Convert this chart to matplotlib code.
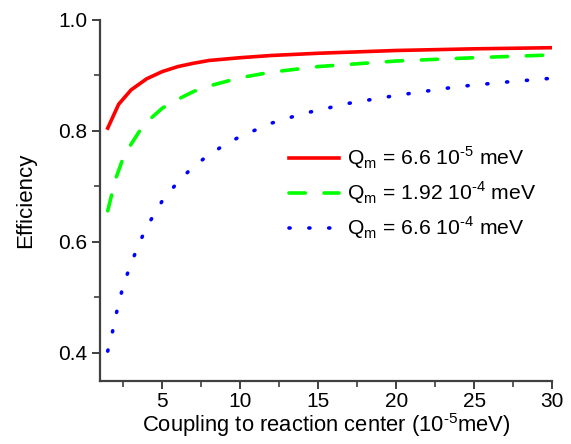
import matplotlib
matplotlib.use("Agg")
import matplotlib.pyplot as plt
from matplotlib.ticker import MultipleLocator

plt.rcParams['font.family'] = ['Liberation Sans', 'DejaVu Sans']
plt.rcParams['mathtext.fontset'] = 'custom'
plt.rcParams['mathtext.rm'] = 'Liberation Sans'

# efficiency vs coupling, one curve per Q_m
x_red = [1.5, 2.2, 3, 4, 5, 6, 7, 8, 10, 12, 15, 20, 25, 30]
eff_red = [0.805, 0.848, 0.874, 0.894, 0.907, 0.916, 0.922, 0.927, 0.932,
           0.936, 0.940, 0.945, 0.948, 0.950]

x_green = [1.5, 2, 2.5, 3, 3.5, 4, 5, 6, 7, 8, 10, 12, 15, 20, 25, 30]
eff_green = [0.656, 0.713, 0.752, 0.776, 0.798, 0.816, 0.841, 0.857, 0.871,
             0.881, 0.896, 0.906, 0.916, 0.926, 0.932, 0.937]

x_blue = [1.5, 1.8, 2, 2.5, 3, 3.5, 4, 5, 6, 7, 8, 9, 10, 12, 14, 17, 20,
          24, 27, 30]
eff_blue = [0.403, 0.437, 0.465, 0.522, 0.561, 0.596, 0.627, 0.674, 0.708,
            0.736, 0.757, 0.775, 0.790, 0.814, 0.831, 0.850, 0.864, 0.880,
            0.888, 0.895]

labels = [r'Q$_\mathregular{m}$ = 6.6 10$^\text{-5}$ meV',
          r'Q$_\mathregular{m}$ = 1.92 10$^\text{-4}$ meV',
          r'Q$_\mathregular{m}$ = 6.6 10$^\text{-4}$ meV']

fig = plt.figure(figsize=(5.71, 4.44), dpi=100)
ax = fig.add_axes([0.175, 0.143, 0.792, 0.812])

ax.plot(x_red, eff_red, color='#ff0000', lw=2.6, label=labels[0])
ax.plot(x_green, eff_green, color='#00ff00', lw=2.6, dashes=(4.5, 5.2),
        dash_capstyle='round', label=labels[1])
ax.plot(x_blue, eff_blue, color='#0000ff', lw=2.6, dashes=(0.3, 5.2),
        dash_capstyle='round', label=labels[2])

ax.set_xlim(1, 30)
ax.set_ylim(0.35, 1.0)
ax.xaxis.set_major_locator(MultipleLocator(5))
ax.xaxis.set_minor_locator(MultipleLocator(2.5))
ax.yaxis.set_minor_locator(MultipleLocator(0.1))
ax.set_yticks([0.4, 0.6, 0.8, 1.0])
ax.set_yticklabels(['0.4', '0.6', '0.8', '1.0'])

for side in ['top', 'right']:
    ax.spines[side].set_visible(False)
for side in ['left', 'bottom']:
    ax.spines[side].set_color('#404040')
    ax.spines[side].set_linewidth(1.6)

ax.tick_params(which='major', direction='out', length=6, width=1.4,
               color='#404040', labelsize=15, pad=3)
ax.tick_params(axis='x', which='major', pad=2)
ax.tick_params(which='minor', direction='out', length=4, width=1.2,
               color='#404040')

ax.set_xlabel(r'Coupling to reaction center (10$^\text{-5}$meV)',
              fontsize=15.8, labelpad=0)
ax.set_ylabel('Efficiency', fontsize=16, labelpad=16)

ax.legend(loc='center left', bbox_to_anchor=(0.375, 0.52), frameon=False,
          fontsize=15.2, handlelength=2.4, handletextpad=0.35,
          labelspacing=0.4)

fig.savefig('out.png', dpi=100)
